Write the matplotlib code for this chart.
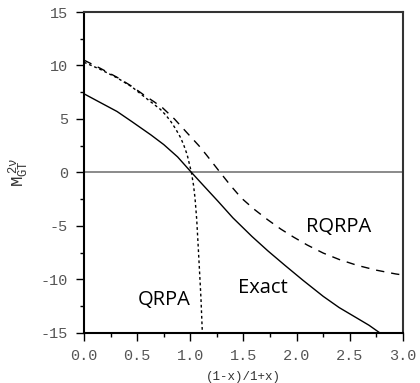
import matplotlib
matplotlib.use("Agg")
import matplotlib.pyplot as plt
from matplotlib.ticker import MultipleLocator, FixedLocator

# Data
exact_x = [0.0, 0.15, 0.31, 0.45, 0.63, 0.75, 0.88, 1.01, 1.13, 1.26, 1.4, 1.58, 1.73,
           1.89, 2.06, 2.25, 2.4, 2.57, 2.68, 2.78]
exact_y = [7.35, 6.55, 5.7, 4.75, 3.5, 2.6, 1.45, 0.0, -1.3, -2.7, -4.25, -6.0, -7.35,
           -8.7, -10.1, -11.6, -12.65, -13.65, -14.3, -15.0]

qrpa_x = [0.0, 0.15, 0.31, 0.45, 0.58, 0.66, 0.72, 0.77, 0.815, 0.86, 0.91, 0.94, 0.97,
          1.01, 1.03, 1.044, 1.06, 1.075, 1.09, 1.1, 1.113]
qrpa_y = [10.3, 9.65, 8.85, 8.0, 6.97, 6.35, 5.88, 5.35, 4.78, 4.1, 3.22, 2.5, 1.66,
          0.0, -1.2, -2.4, -4.4, -7.1, -9.9, -11.8, -15.0]

rqrpa_x = [0.0, 0.15, 0.31, 0.45, 0.58, 0.66, 0.74, 0.85, 0.97, 1.08, 1.15, 1.28, 1.38,
           1.48, 1.6, 1.73, 1.85, 1.97, 2.1, 2.25, 2.4, 2.57, 2.75, 2.93, 3.0]
rqrpa_y = [10.5, 9.75, 8.9, 8.05, 7.12, 6.6, 6.03, 5.0, 3.69, 2.5, 1.65, 0.0, -1.25,
           -2.4, -3.45, -4.45, -5.3, -6.05, -6.8, -7.55, -8.15, -8.7, -9.15, -9.5, -9.6]

x_ticks = [0.0, 0.5, 1.0, 1.5, 2.0, 2.5, 3.0]
x_labels = ["0.0", "0.5", "1.0", "1.5", "2.0", "2.5", "3.0"]
y_ticks = [-15, -10, -5, 0, 5, 10, 15]
y_labels = ["-15", "-10", "-5", "0", "5", "10", "15"]

labels = ["QRPA", "Exact", "RQRPA"]
label_pos = [(0.753, -11.9), (1.68, -10.8), (2.39, -5.1)]

plt.rcParams['mathtext.fontset'] = 'custom'
plt.rcParams['mathtext.rm'] = 'Liberation Mono'
plt.rcParams['mathtext.it'] = 'Liberation Mono'

fig = plt.figure(figsize=(4.2, 3.83), dpi=100)
ax = fig.add_axes([0.2, 0.1313, 0.7595, 0.8373])

ax.axhline(0, color="#777777", lw=1.2, zorder=1)
ax.plot(exact_x, exact_y, color="black", lw=1.0)
ax.plot(qrpa_x, qrpa_y, color="black", lw=1.0, linestyle=(0, (2, 2)))
ax.plot(rqrpa_x, rqrpa_y, color="black", lw=1.0, linestyle=(0, (6, 5)))

ax.set_xlim(0, 3)
ax.set_ylim(-15, 15)

ax.xaxis.set_major_locator(FixedLocator(x_ticks))
ax.set_xticklabels(x_labels)
ax.xaxis.set_minor_locator(MultipleLocator(0.25))
ax.yaxis.set_major_locator(FixedLocator(y_ticks))
ax.set_yticklabels(y_labels)
ax.yaxis.set_minor_locator(MultipleLocator(2.5))

ax.tick_params(which="major", direction="out", length=5.5, width=1.0, color="black",
               labelsize=11, labelcolor="#555555", pad=6)
ax.tick_params(which="minor", direction="out", length=3, width=1.0, color="black")
ax.tick_params(top=False, right=False, which="both")
for lab in ax.get_xticklabels() + ax.get_yticklabels():
    lab.set_family("Liberation Mono")

for s in ["left", "bottom"]:
    ax.spines[s].set_linewidth(1.5)
    ax.spines[s].set_color("black")
for s in ["top", "right"]:
    ax.spines[s].set_linewidth(1.5)
    ax.spines[s].set_color("#333333")

ax.set_xlabel("(1-x)/1+x)", family="Liberation Mono", fontsize=9, color="#333333", labelpad=6)
ax.set_ylabel(r"$\mathrm{M}_{\mathrm{GT}}^{\ 2\nu}$", fontsize=12.5, color="#333333", labelpad=6)

for t, (px, py) in zip(labels, label_pos):
    ax.text(px, py, t, ha="center", va="center", fontsize=14.5, family="Open Sans",
            color="black")

fig.savefig("out.png", dpi=100)
